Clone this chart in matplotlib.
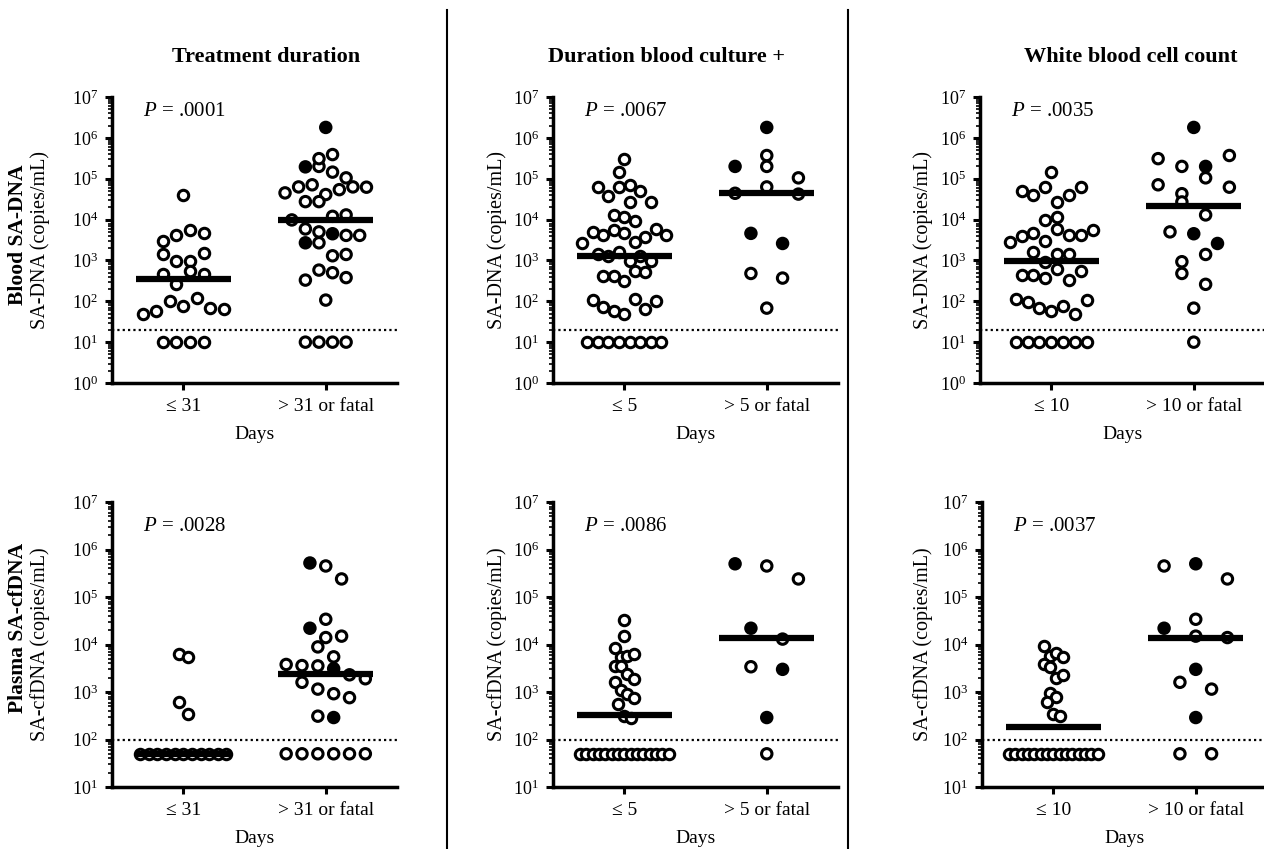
import numpy as np
import matplotlib.pyplot as plt
from matplotlib.lines import Line2D
from matplotlib.ticker import LogLocator

plt.rcParams['font.family'] = ['Liberation Serif', 'DejaVu Serif']
plt.rcParams['mathtext.fontset'] = 'custom'
plt.rcParams['mathtext.rm'] = 'Liberation Serif'
plt.rcParams['mathtext.it'] = 'Liberation Serif:italic'

# ---- labels ----
col_titles = ["Treatment duration", "Duration blood culture +", "White blood cell count"]
cutoffs = ["31", "5", "10"]
row_titles = ["Blood SA-DNA", "Plasma SA-cfDNA"]
y_labels = ["SA-DNA (copies/mL)", "SA-cfDNA (copies/mL)"]
lod = [20, 100]
p_values = [[".0001", ".0067", ".0035"],
            [".0028", ".0086", ".0037"]]
medians = [[(360, 9800), (1300, 45000), (980, 21000)],
           [(50, 2400), (330, 14000), (180, 14000)]]

# ---- Blood SA-DNA (copies/mL) ----
blood_tx_low = [39000,
                3000, 4100, 5600, 4700,
                1400, 980, 980, 1500,
                460, 260, 560, 460,
                50, 58, 100, 78, 120, 68, 63,
                10, 10, 10, 10]
blood_tx_high = [1800000,
                 195000, 200000, 145000, 310000, 390000,
                 45000, 63000, 71000, 41000, 54000, 63000, 62000, 105000,
                 27500, 27500,
                 12000, 13000, 9800,
                 5900, 5000, 4500, 4100, 4100,
                 2700, 2700,
                 1300, 1400,
                 330, 580, 500, 380,
                 107,
                 10, 10, 10, 10]
blood_tx_high_fatal = [1,
                       1, 0, 0, 0, 0,
                       0, 0, 0, 0, 0, 0, 0, 0,
                       0, 0,
                       0, 0, 0,
                       0, 0, 1, 0, 0,
                       1, 0,
                       0, 0,
                       0, 0, 0, 0,
                       0,
                       0, 0, 0, 0]

blood_bc_low = [310000, 150000,
                62000, 71000, 37000, 62000, 27500, 51000, 27000,
                13000, 11500, 9300,
                2700, 4900, 4100, 5600, 4600, 2900, 3800, 5900, 4200,
                1400, 1300, 1600, 980, 1300, 980,
                420, 420, 320, 560, 525,
                107, 74, 58, 50, 112, 63, 100,
                10, 10, 10, 10, 10, 10, 10, 10]
blood_bc_high = [1800000,
                 370000, 200000, 200000,
                 44000, 105000, 63000, 42000,
                 4600, 2600,
                 480, 370,
                 68]
blood_bc_high_fatal = [1, 0, 1, 0, 0, 0, 0, 0, 1, 1, 0, 0, 0]

blood_wbc_low = [150000,
                 51000, 39000, 62000, 27500, 39000, 62000,
                 9500, 11700,
                 2750, 3900, 4700, 3000, 5900, 4100, 4100, 5600,
                 1600, 930, 1400, 1400,
                 440, 440, 380, 620, 330, 560,
                 112, 95, 68, 58, 78, 50, 107,
                 10, 10, 10, 10, 10, 10, 10]
blood_wbc_high = [1800000,
                  310000, 200000, 200000, 370000,
                  71000, 43000, 105000, 62000,
                  27000,
                  13000,
                  5000, 4500, 2600,
                  930, 1400,
                  480,
                  260,
                  68,
                  10]
blood_wbc_high_fatal = [1, 0, 0, 1, 0, 0, 0, 0, 0, 0, 0, 0, 1, 1, 0, 0, 0, 0, 0, 0]

# ---- Plasma SA-cfDNA (copies/mL) ----
plasma_tx_low = [6200, 5500,
                 620, 340,
                 50, 50, 50, 50, 50, 50, 50, 50, 50, 50, 50]
plasma_tx_high = [520000, 450000,
                  240000,
                  34000,
                  22000,
                  14000, 15000,
                  8900,
                  5500,
                  3800, 3600, 3550, 3100,
                  2300, 1900,
                  1600, 1150,
                  920, 760,
                  310, 290,
                  50, 50, 50, 50, 50, 50]
plasma_tx_high_fatal = [1, 0, 0, 0, 1, 0, 0, 0, 0, 0, 0, 0, 1, 0, 0,
                        0, 0, 0, 0, 0, 1, 0, 0, 0, 0, 0, 0]

plasma_bc_low = [33000,
                 15000,
                 8500,
                 5500, 5600, 6200,
                 3600, 3600,
                 2400,
                 1900, 1600,
                 1100,
                 890, 760,
                 570,
                 320, 290,
                 50, 50, 50, 50, 50, 50, 50, 50, 50, 50, 50, 50, 50, 50, 50]
plasma_bc_high = [500000, 450000, 240000,
                  22000,
                  13000,
                  3400, 3000,
                  290,
                  50]
plasma_bc_high_fatal = [1, 0, 0, 1, 0, 0, 1, 1, 0]

plasma_wbc_low = [9100,
                  5600, 6500, 5500,
                  3800, 3400,
                  2000, 2300,
                  950, 780, 620,
                  340, 310,
                  50, 50, 50, 50, 50, 50, 50, 50, 50, 50, 50, 50, 50, 50, 50]
plasma_wbc_high = [450000, 500000,
                   240000,
                   34000,
                   22000,
                   15000, 14000,
                   3000,
                   1600, 1150,
                   290,
                   50, 50]
plasma_wbc_high_fatal = [0, 1, 0, 0, 1, 0, 0, 1, 0, 0, 1, 0, 0]

panels = [
    [(blood_tx_low, blood_tx_high, blood_tx_high_fatal),
     (blood_bc_low, blood_bc_high, blood_bc_high_fatal),
     (blood_wbc_low, blood_wbc_high, blood_wbc_high_fatal)],
    [(plasma_tx_low, plasma_tx_high, plasma_tx_high_fatal),
     (plasma_bc_low, plasma_bc_high, plasma_bc_high_fatal),
     (plasma_wbc_low, plasma_wbc_high, plasma_wbc_high_fatal)],
]

# ---- layout (pixels of a 1264x849 canvas) ----
W, H = 1264, 849
ax_left = [[112, 553, 980], [112, 553, 982]]
ax_top = [97, 502]
ax_bottom = [383, 787]
ax_width = 285
y_lims = [(1, 1e7), (10, 1e7)]
ylabel_x = [40, 497, 923]


def row_layout(ax, xc, vals, width_px=95, row_px=16, max_step=32):
    # spread points of similar value into centred horizontal rows
    vals = np.asarray(vals, float)
    y_px = ax.transData.transform(np.column_stack([np.full(len(vals), xc), vals]))[:, 1]
    px_per_unit = ax.transData.transform([[1, 1]])[0, 0] - ax.transData.transform([[0, 1]])[0, 0]
    rows, cur, start = [], [], None
    for i in np.argsort(y_px, kind="stable"):
        if cur and y_px[i] - start > row_px:
            rows.append(cur)
            cur = []
        if not cur:
            start = y_px[i]
        cur.append(i)
    rows.append(cur)
    step = min(width_px / max(len(r) for r in rows), max_step)
    xs = np.full(len(vals), float(xc))
    for r in rows:
        r = sorted(r)
        for k, i in enumerate(r):
            xs[i] += (k - (len(r) - 1) / 2) * step / px_per_unit
    return xs


fig = plt.figure(figsize=(W / 100, H / 100), dpi=100)

for r in range(2):
    for c in range(3):
        left = ax_left[r][c]
        ax = fig.add_axes([left / W, (H - ax_bottom[r]) / H,
                           ax_width / W, (ax_bottom[r] - ax_top[r]) / H])
        ax.set_yscale("log")
        ax.set_ylim(*y_lims[r])
        ax.set_xlim(-0.5, 1.5)
        ax.yaxis.set_major_locator(LogLocator(base=10, numticks=20))
        ax.yaxis.set_minor_locator(LogLocator(base=10, subs=np.arange(2, 10), numticks=20))

        low, high, fatal = panels[r][c]
        x_low = row_layout(ax, 0, low)
        x_high = row_layout(ax, 1, high)
        fatal = np.asarray(fatal, bool)
        high = np.asarray(high, float)

        ax.axhline(lod[r], color="black", lw=1.6, linestyle=(0, (1, 1.4)), zorder=1)

        ax.scatter(x_low, low, s=7.5 ** 2, facecolors="white", edgecolors="black",
                   linewidths=2.2, zorder=3, clip_on=False)
        face = np.where(fatal, "black", "white")
        ax.scatter(x_high, high, s=7.5 ** 2, facecolors=face, edgecolors="black",
                   linewidths=2.2, zorder=3, clip_on=False)

        for xc, m in zip([0, 1], medians[r][c]):
            ax.plot([xc - 0.333, xc + 0.333], [m, m], color="black", lw=4.5,
                    solid_capstyle="butt", zorder=4)

        ax.text(0.11, 0.95 if r == 0 else 0.915, r"$P$ = " + p_values[r][c],
                transform=ax.transAxes, va="center", ha="left", fontsize=15)

        for side in ["top", "right"]:
            ax.spines[side].set_visible(False)
        ax.spines["left"].set_linewidth(2.5)
        ax.spines["bottom"].set_linewidth(2.5)
        ax.tick_params(axis="y", which="major", length=5, width=2.2, labelsize=13, pad=5)
        ax.tick_params(axis="y", which="minor", length=3, width=1.2)
        ax.tick_params(axis="x", length=5, width=2.2, labelsize=14, pad=6)
        ax.set_xticks([0, 1])
        ax.set_xticklabels(["\u2264 " + cutoffs[c], "> " + cutoffs[c] + " or fatal"])
        ax.set_xlabel("Days", fontsize=14, labelpad=8)

        fig.text(ylabel_x[c] / W, 1 - (ax_top[r] + ax_bottom[r]) / 2 / H,
                 y_labels[r], rotation=90, ha="center", va="center", fontsize=14.5)

# column titles
title_x = [266, 667, 1131]
for c in range(3):
    fig.text(title_x[c] / W, 1 - 57 / H, col_titles[c], ha="center", va="center",
             fontsize=16, fontweight="bold")

# row titles
row_y = [235, 628]
for r in range(2):
    fig.text(18 / W, 1 - row_y[r] / H, row_titles[r], rotation=90, ha="center",
             va="center", fontsize=15.5, fontweight="bold")

# separators between columns
for xs in [447, 848]:
    fig.add_artist(Line2D([xs / W, xs / W], [0, 1 - 10 / H], color="black", lw=1.5,
                          transform=fig.transFigure))

fig.savefig("out.png", dpi=100)
